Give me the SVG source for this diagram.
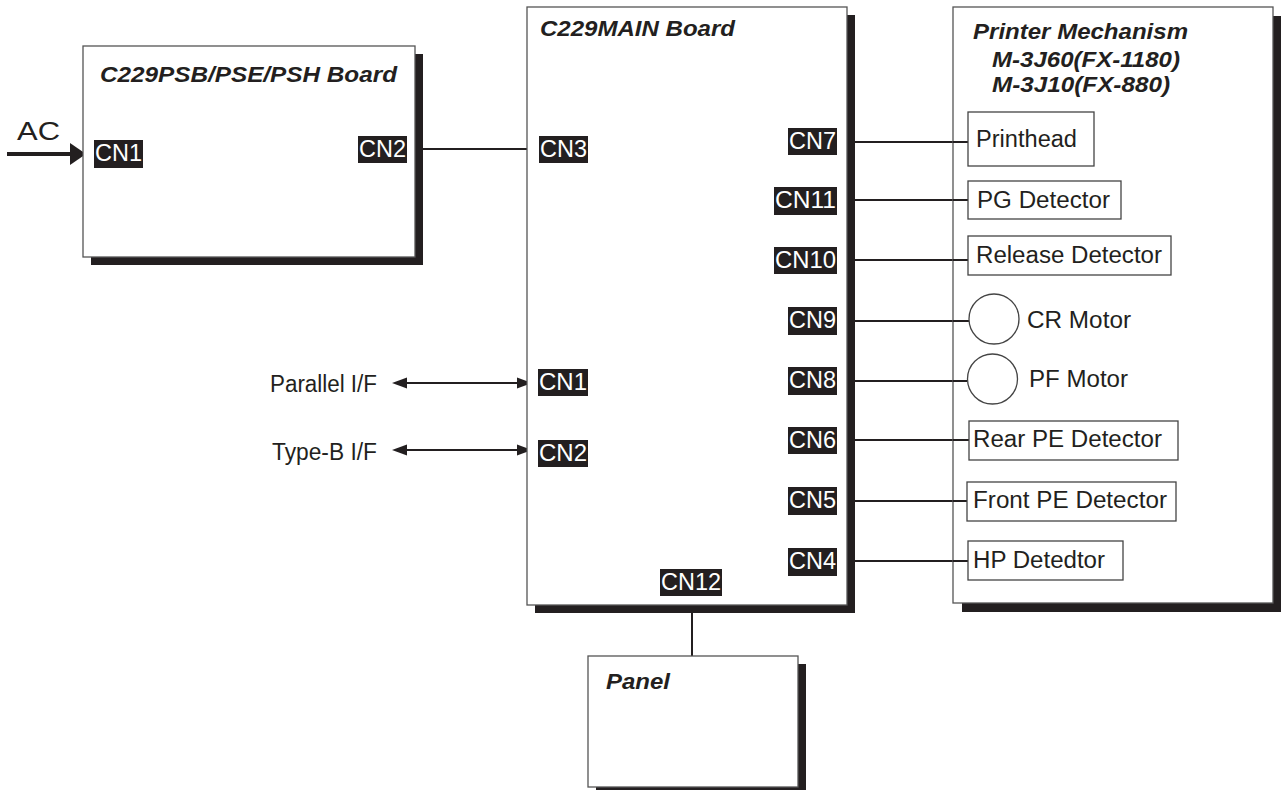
<svg xmlns="http://www.w3.org/2000/svg" width="1281" height="790" viewBox="0 0 1281 790">
<style>
.box{fill:#fff;stroke:#555;stroke-width:1.3}
.shadow{fill:#231f20}
.item{fill:#fff;stroke:#444;stroke-width:1.3}
.title{font-family:"Liberation Sans",Arial,sans-serif;font-weight:bold;font-style:italic;font-size:22px;fill:#231f20}
.txt{font-family:"Liberation Sans",Arial,sans-serif;font-size:23px;fill:#231f20}
.cnbg{fill:#231f20}
.cn{font-family:"Liberation Sans",Arial,sans-serif;font-size:23px;fill:#fff}
.wire{stroke:#231f20;stroke-width:2;fill:none}
.head{fill:#231f20}
</style>

<g id="connectors">
<line class="wire" x1="407" y1="149" x2="539" y2="149"/>
<line class="wire" x1="837" y1="142" x2="968" y2="142"/>
<line class="wire" x1="837" y1="200" x2="968" y2="200"/>
<line class="wire" x1="837" y1="260" x2="968" y2="260"/>
<line class="wire" x1="837" y1="321" x2="969" y2="321"/>
<line class="wire" x1="837" y1="381" x2="967" y2="381"/>
<line class="wire" x1="837" y1="440" x2="969" y2="440"/>
<line class="wire" x1="837" y1="501" x2="967" y2="501"/>
<line class="wire" x1="837" y1="561" x2="968" y2="561"/>
<line class="wire" x1="692" y1="596" x2="692" y2="656"/>
<line class="wire" x1="400" y1="383" x2="524" y2="383"/>
<path class="head" d="M392,383 L407,377.5 L407,388.5 Z"/>
<path class="head" d="M532,383 L517,377.5 L517,388.5 Z"/>
<line class="wire" x1="400" y1="450" x2="524" y2="450"/>
<path class="head" d="M392,450 L407,444.5 L407,455.5 Z"/>
<path class="head" d="M532,450 L517,444.5 L517,455.5 Z"/>
<line x1="7" y1="154" x2="74" y2="154" stroke="#231f20" stroke-width="4"/>
<path class="head" d="M70,143 L86,154 L70,165 Z"/>
</g>

<g id="psb">
<rect class="shadow" x="91" y="54" width="332" height="211"/>
<rect class="box" x="83" y="46" width="332" height="211"/>
<text class="title" x="100" y="82" textLength="297" lengthAdjust="spacingAndGlyphs">C229PSB/PSE/PSH Board</text>
<rect class="cnbg" x="94" y="140" width="49" height="28"/>
<text class="cn" x="95" y="161" textLength="47" lengthAdjust="spacingAndGlyphs">CN1</text>
<rect class="cnbg" x="358" y="136" width="49" height="27"/>
<text class="cn" x="359" y="157" textLength="47" lengthAdjust="spacingAndGlyphs">CN2</text>
</g>

<g id="ac">
<text class="txt" x="17" y="140" style="font-size:25px" textLength="43" lengthAdjust="spacingAndGlyphs">AC</text>
</g>

<g id="main">
<rect class="shadow" x="535" y="15" width="320" height="598"/>
<rect class="box" x="527" y="7" width="320" height="598"/>
<text class="title" x="540" y="36" textLength="195" lengthAdjust="spacingAndGlyphs">C229MAIN Board</text>
<rect class="cnbg" x="539" y="136" width="49" height="27"/>
<text class="cn" x="540" y="157" textLength="47" lengthAdjust="spacingAndGlyphs">CN3</text>
<rect class="cnbg" x="538" y="369" width="50" height="27"/>
<text class="cn" x="539" y="390" textLength="48" lengthAdjust="spacingAndGlyphs">CN1</text>
<rect class="cnbg" x="538" y="440" width="50" height="27"/>
<text class="cn" x="539" y="461" textLength="48" lengthAdjust="spacingAndGlyphs">CN2</text>
<rect class="cnbg" x="788" y="128" width="49" height="27"/>
<text class="cn" x="789" y="149" textLength="47" lengthAdjust="spacingAndGlyphs">CN7</text>
<rect class="cnbg" x="774" y="187" width="63" height="28"/>
<text class="cn" x="775" y="208" textLength="61" lengthAdjust="spacingAndGlyphs">CN11</text>
<rect class="cnbg" x="774" y="247" width="63" height="27"/>
<text class="cn" x="775" y="268" textLength="61" lengthAdjust="spacingAndGlyphs">CN10</text>
<rect class="cnbg" x="788" y="307" width="49" height="28"/>
<text class="cn" x="789" y="328" textLength="47" lengthAdjust="spacingAndGlyphs">CN9</text>
<rect class="cnbg" x="788" y="367" width="49" height="28"/>
<text class="cn" x="789" y="388" textLength="47" lengthAdjust="spacingAndGlyphs">CN8</text>
<rect class="cnbg" x="788" y="427" width="49" height="27"/>
<text class="cn" x="789" y="448" textLength="47" lengthAdjust="spacingAndGlyphs">CN6</text>
<rect class="cnbg" x="788" y="487" width="49" height="28"/>
<text class="cn" x="789" y="508" textLength="47" lengthAdjust="spacingAndGlyphs">CN5</text>
<rect class="cnbg" x="788" y="548" width="49" height="28"/>
<text class="cn" x="789" y="569" textLength="47" lengthAdjust="spacingAndGlyphs">CN4</text>
<rect class="cnbg" x="660" y="569" width="62" height="27"/>
<text class="cn" x="661" y="590" textLength="60" lengthAdjust="spacingAndGlyphs">CN12</text>
</g>

<g id="printer">
<rect class="shadow" x="962" y="16" width="320" height="596"/>
<rect class="box" x="953" y="7" width="320" height="596"/>
<text class="title" x="973" y="39" textLength="215" lengthAdjust="spacingAndGlyphs">Printer Mechanism</text>
<text class="title" x="992" y="67" textLength="188" lengthAdjust="spacingAndGlyphs">M-3J60(FX-1180)</text>
<text class="title" x="992" y="92" textLength="178" lengthAdjust="spacingAndGlyphs">M-3J10(FX-880)</text>
<line class="wire" x1="953" y1="142" x2="968" y2="142"/>
<line class="wire" x1="953" y1="200" x2="968" y2="200"/>
<line class="wire" x1="953" y1="260" x2="968" y2="260"/>
<line class="wire" x1="953" y1="321" x2="969" y2="321"/>
<line class="wire" x1="953" y1="381" x2="967" y2="381"/>
<line class="wire" x1="953" y1="440" x2="969" y2="440"/>
<line class="wire" x1="953" y1="501" x2="967" y2="501"/>
<line class="wire" x1="953" y1="561" x2="968" y2="561"/>
</g>

<g id="printhead">
<rect class="item" x="968" y="112" width="126" height="54"/>
<text class="txt" x="976" y="147" textLength="101" lengthAdjust="spacingAndGlyphs">Printhead</text>
</g>
<g id="pg-detector">
<rect class="item" x="968" y="181" width="153" height="38"/>
<text class="txt" x="977" y="208" textLength="133" lengthAdjust="spacingAndGlyphs">PG Detector</text>
</g>
<g id="release-detector">
<rect class="item" x="968" y="236" width="203" height="39"/>
<text class="txt" x="976" y="263" textLength="186" lengthAdjust="spacingAndGlyphs">Release Detector</text>
</g>
<g id="cr-motor">
<circle class="item" cx="994" cy="319" r="25"/>
<text class="txt" x="1027" y="328" textLength="104" lengthAdjust="spacingAndGlyphs">CR Motor</text>
</g>
<g id="pf-motor">
<circle class="item" cx="992.5" cy="379" r="25"/>
<text class="txt" x="1029" y="387" textLength="99" lengthAdjust="spacingAndGlyphs">PF Motor</text>
</g>
<g id="rear-pe">
<rect class="item" x="969" y="421" width="209" height="39"/>
<text class="txt" x="973" y="447" textLength="189" lengthAdjust="spacingAndGlyphs">Rear PE Detector</text>
</g>
<g id="front-pe">
<rect class="item" x="967" y="482" width="209" height="39"/>
<text class="txt" x="973" y="508" textLength="194" lengthAdjust="spacingAndGlyphs">Front PE Detector</text>
</g>
<g id="hp-detector">
<rect class="item" x="968" y="541" width="155" height="39"/>
<text class="txt" x="973" y="568" textLength="132" lengthAdjust="spacingAndGlyphs">HP Detedtor</text>
</g>

<g id="parallel-if">
<text class="txt" x="270" y="392" textLength="107" lengthAdjust="spacingAndGlyphs">Parallel I/F</text>
</g>
<g id="typeb-if">
<text class="txt" x="272" y="460" textLength="105" lengthAdjust="spacingAndGlyphs">Type-B I/F</text>
</g>

<g id="panel">
<rect class="shadow" x="596" y="664" width="210" height="131"/>
<rect class="box" x="588" y="656" width="210" height="131"/>
<text class="title" x="606" y="689" textLength="64" lengthAdjust="spacingAndGlyphs">Panel</text>
</g>
</svg>
